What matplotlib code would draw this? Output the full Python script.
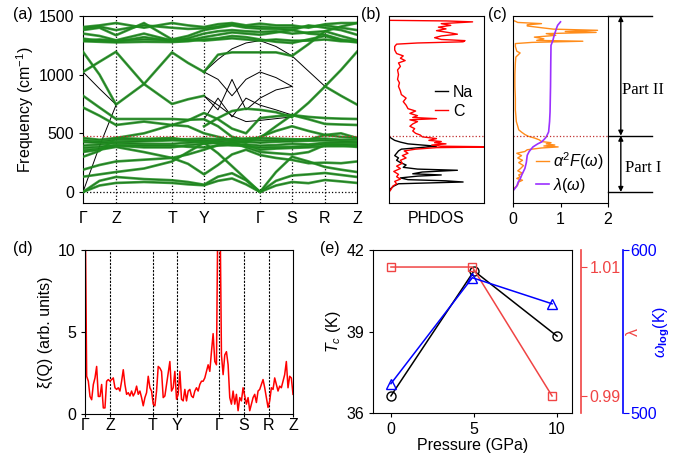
import numpy as np
import matplotlib
matplotlib.use('Agg')
import matplotlib.pyplot as plt

plt.rcParams['font.family'] = ['Liberation Sans', 'DejaVu Sans']
plt.rcParams['mathtext.fontset'] = 'custom'
plt.rcParams['mathtext.rm'] = 'Liberation Sans'
plt.rcParams['mathtext.it'] = 'Liberation Sans:italic'
plt.rcParams['mathtext.bf'] = 'Liberation Sans:bold'
plt.rcParams['font.size'] = 11.5

n = np.nan
# ---------------- k-path ----------------
kpath_labels = ['Γ', 'Z', 'T', 'Y', 'Γ', 'S', 'R', 'Z']
kpath_ticks = [0, 33, 89, 121, 177, 209, 242, 274]
band_k = [0, 16.5, 33, 61, 89, 105, 121, 135, 149, 163, 177, 193, 209, 225.5, 242, 258, 274]

# ---------------- (a) phonon bands (cm^-1) ----------------
green_bands = [
    [0, 55, 77, 85, 77, 65, 57, 95, 115, 65, 0, 55, 85, 75, 102, 90, 77],
    [0, 95, 128, 110, 100, 85, 62, 130, 160, 100, 0, 95, 140, 150, 162, 145, 128],
    [130, 150, 170, 200, 260, 340, 420, 330, 220, 110, 0, 170, 300, 260, 213, 190, 170],
    [190, 230, 260, 275, 290, 240, 150, 230, 320, 360, 315, 290, 273, 245, 250, 245, 260],
    [341, 360, 384, 340, 290, 320, 360, 400, 430, 380, 341, 330, 320, 340, 400, 395, 384],
    [355, 370, 395, 380, 380, 400, 410, 420, 410, 400, 360, 370, 375, 380, 390, 390, 395],
    [375, 385, 400, 395, 395, 385, 380, 395, 400, 390, 378, 382, 385, 392, 410, 405, 400],
    [395, 405, 418, 410, 410, 420, 430, 415, 398, 405, 395, 400, 410, 405, 420, 420, 418],
    [425, 420, 426, 432, 440, 436, 440, 432, 422, 428, 420, 428, 432, 436, 440, 432, 426],
    [440, 430, 445, 445, 450, 450, 455, 450, 440, 445, 440, 440, 445, 450, 455, 445, 445],
    [460, 445, 460, 452, 460, 440, 420, 440, 452, 456, 460, 455, 450, 445, 486, 470, 460],
    [300, 350, 460, 500, 571, 560, 500, 470, 440, 420, 470, 520, 560, 520, 486, 500, 460],
    [720, 650, 571, 600, 571, 610, 673, 620, 540, 500, 630, 645, 656, 620, 580, 575, 571],
    [820, 720, 622, 622, 622, 615, 620, 560, 470, 440, 460, 560, 656, 640, 630, 625, 622],
    [n, n, n, n, n, n, 560, 630, 690, 710, 700, 680, 640, n, n, n, n],
    [1023, 1110, 1195, 920, 750, 790, 820, n, n, n, n, n, 640, 760, 900, 1040, 1195],
    [1195, 1000, 745, 920, 1190, 1100, 1023, n, n, n, n, n, n, n, 900, 820, 745],
    [n, n, n, n, n, n, 1023, 1170, 1190, 1190, 1190, 1190, 1160, 1260, 1370, 1410, 1440],
    [1406, 1420, 1440, 1400, 1440, 1420, 1406, 1430, 1440, 1420, 1435, 1420, 1420, 1400, 1430, 1440, 1440],
    [1395, 1410, 1380, 1420, 1400, 1390, 1395, 1410, 1430, 1410, 1410, 1400, 1400, 1410, 1420, 1400, 1380],
    [1380, 1400, 1336, 1440, 1300, 1330, 1380, 1400, 1420, 1400, 1392, 1390, 1380, 1420, 1400, 1380, 1340],
    [1350, 1330, 1293, 1350, 1290, 1310, 1350, 1370, 1380, 1370, 1364, 1370, 1350, 1360, 1370, 1330, 1293],
    [1307, 1290, 1280, 1320, 1285, 1290, 1320, 1340, 1360, 1350, 1340, 1360, 1380, 1350, 1340, 1300, 1280],
    [1290, 1300, 1290, 1300, 1295, 1300, 1290, 1300, 1310, 1300, 1290, 1300, 1290, 1290, 1300, 1285, 1290],
    [1285, 1280, 1275, 1280, 1278, 1285, 1300, 1310, 1330, 1320, 1300, 1280, 1270, 1300, 1330, 1290, 1275],
]
black_bands = [
    [0, 390, 740, n, n, n, n, n, n, n, n, n, n, n, n, n, n],
    [1023, 880, 745, n, n, n, n, n, n, n, n, n, n, n, n, n, n],
    [n, n, n, n, n, n, 820, 740, 650, 600, 610, 625, 640, n, n, n, n],
    [n, n, n, n, n, n, 1023, 1130, 1220, 1270, 1290, 1240, 1160, 1030, 900, n, n],
    [n, n, n, n, n, n, 1023, 960, 820, 960, 1023, 975, 900, n, n, n, n],
    [n, n, n, n, n, n, 820, 700, 960, 700, 800, 870, 900, n, n, n, n],
    [n, n, n, n, n, n, 620, 800, 640, 800, 740, 700, 656, n, n, n, n],
]
fermi_cut = 480

# ---------------- (b) PHDOS ----------------
dos_freq_c = [0, 20, 50, 70, 90, 110, 130, 150, 175, 200, 220, 245, 270, 290, 310, 330, 350, 365,
              378, 384, 390, 400, 410, 420, 430, 440, 455, 470, 485, 500, 520, 540, 560, 580, 600,
              615, 625, 635, 650, 670, 690, 710, 740, 770, 800, 830, 860, 900, 930, 960, 1000,
              1040, 1070, 1100, 1120, 1140, 1160, 1180, 1210, 1240, 1260, 1270, 1280, 1290, 1300,
              1315, 1330, 1345, 1360, 1375, 1390, 1405, 1420, 1435, 1450, 1458, 1463, 1500]
dos_c = [0, 0.02, 0.04, 0.08, 0.06, 0.12, 0.08, 0.10, 0.05, 0.12, 0.08, 0.14, 0.12, 0.18, 0.14, 0.20,
         0.16, 0.28, 0.50, 1.20, 0.55, 0.45, 0.60, 0.48, 0.55, 0.42, 0.50, 0.35, 0.33, 0.28, 0.25,
         0.27, 0.22, 0.25, 0.30, 0.22, 0.50, 0.25, 0.30, 0.22, 0.28, 0.20, 0.18, 0.15, 0.18, 0.13,
         0.12, 0.10, 0.11, 0.09, 0.10, 0.09, 0.12, 0.10, 0.17, 0.12, 0.15, 0.08, 0.06, 0.06, 0.08,
         0.30, 0.78, 0.80, 0.55, 0.48, 0.55, 0.72, 0.62, 0.50, 0.60, 0.52, 0.65, 0.55, 0.88, 0.60,
         0.0, 0.0]
dos_freq_na = [0, 30, 50, 70, 85, 95, 105, 120, 135, 145, 155, 170, 185, 195, 210, 230, 250, 270,
               290, 310, 330, 350, 365, 380, 390, 400, 410, 425, 440, 460, 480, 1500]
dos_na = [0, 0.02, 0.05, 0.10, 0.78, 0.60, 0.20, 0.12, 0.30, 0.55, 0.25, 0.35, 0.72, 0.30, 0.15,
          0.18, 0.12, 0.08, 0.10, 0.06, 0.08, 0.10, 0.13, 0.35, 0.50, 0.35, 0.20, 0.12, 0.06, 0.02,
          0.0, 0.0]

# ---------------- (c) Eliashberg ----------------
a2f_freq = [0, 30, 60, 85, 100, 115, 130, 145, 160, 180, 200, 225, 250, 270, 290, 310, 330, 345,
            360, 375, 384, 392, 400, 410, 420, 430, 445, 460, 475, 490, 510, 530, 560, 600, 700,
            800, 900, 1000, 1100, 1150, 1185, 1200, 1240, 1265, 1275, 1285, 1292, 1305, 1320,
            1335, 1350, 1360, 1368, 1378, 1388, 1400, 1415, 1425, 1435, 1445, 1455, 1462, 1500]
a2f = [0, 0.02, 0.10, 0.12, 0.20, 0.08, 0.15, 0.12, 0.20, 0.10, 0.16, 0.22, 0.12, 0.20, 0.10,
       0.18, 0.08, 0.25, 0.30, 0.60, 0.95, 0.65, 0.88, 0.70, 0.80, 0.60, 0.55, 0.45, 0.32, 0.25,
       0.18, 0.12, 0.10, 0.07, 0.05, 0.05, 0.04, 0.04, 0.05, 0.06, 0.15, 0.08, 0.05, 0.05, 0.40,
       1.47, 0.50, 0.65, 0.45, 0.90, 0.70, 1.75, 1.10, 1.78, 0.85, 0.60, 0.30, 0.30, 0.60, 0.10,
       0.05, 0.0, 0.0]
lam_freq = [10, 20, 50, 85, 110, 150, 200, 250, 313, 345, 384, 410, 426, 450, 469, 512, 600, 682,
            900, 1100, 1250, 1293, 1340, 1364, 1400, 1421, 1450]
lam_w = [0, 0.02, 0.08, 0.11, 0.15, 0.19, 0.25, 0.28, 0.30, 0.34, 0.42, 0.52, 0.60, 0.66, 0.70,
         0.75, 0.77, 0.78, 0.79, 0.795, 0.80, 0.84, 0.87, 0.89, 0.92, 0.94, 1.0]

# ---------------- (d) nesting function ----------------
xi = [14, 2.3, 2.0, 1.07, 0.87, 1.8, 2.2, 2.9, 1.07, 1.07, 1.8, 0.37, 0.37, 2.0, 2.1, 2.0, 2.1,
      2.2, 1.6, 1.5, 1.6, 1.4, 2.0, 2.7, 1.8, 1.2, 1.3, 1.1, 1.4, 1.1, 1.3, 1.7, 1.2, 1.4, 1.0,
      0.5, 1.0, 1.3, 2.3, 1.6, 1.4, 0.6, 0.5, 1.4, 2.9, 2.8, 2.6, 1.0, 1.1, 1.8, 2.5, 3.2, 1.4,
      1.6, 2.6, 0.9, 1.2, 2.6, 0.9, 0.8, 1.5, 0.8, 1.4, 1.5, 1.1, 1.0, 1.4, 1.6, 1.4, 1.8, 2.0,
      2.0, 2.2, 2.6, 3.0, 2.6, 3.8, 4.9, 3.2, 3.0, 14, 14, 3.6, 2.4, 3.6, 3.8, 3.0, 1.0, 0.6,
      1.4, 0.6, 1.2, 0.2, 1.0, 0.8, 1.6, 1.1, 0.6, 1.0, 0.2, 0.6, 1.0, 1.2, 0.7, 1.4, 1.5, 1.8,
      2.1, 1.6, 1.0, 0.4, 0.8, 1.6, 1.5, 2.2, 1.8, 1.4, 1.7, 1.6, 2.0, 2.4, 3.2, 1.6, 2.3, 2.2,
      1.2]
xi_q = np.linspace(0, 274, len(xi))

# ---------------- (e) pressure dependence ----------------
pressure_tc = [0, 5, 10]
tc = [36.63, 41.23, 38.83]
pressure_lam = [0, 4.9, 9.7]
lam = [1.01, 1.01, 0.99]
pressure_w = [0, 4.9, 9.7]
wlog = [518, 583, 567]

GREEN = '#1e8c1e'
ORANGE = '#ff8c1a'
PURPLE = '#9b30ff'
LRED = '#f04444'

W, H = 689, 454
fig = plt.figure(figsize=(W / 100, H / 100), dpi=100)


def ax_px(x0, y0, x1, y1):
    return fig.add_axes([x0 / W, 1 - y1 / H, (x1 - x0) / W, (y1 - y0) / H])


ylim_f = (-94, 1500)

# ---- (a)
axa = ax_px(83, 16, 357, 203)
for b in green_bands:
    axa.plot(band_k, b, color='k', lw=0.6, zorder=2)
    axa.plot(band_k, b, color=GREEN, lw=1.9, alpha=0.85, zorder=3)
for b in black_bands:
    axa.plot(band_k, b, color='k', lw=0.7, zorder=2)
for t in kpath_ticks[1:-1]:
    axa.axvline(t, color='k', ls=':', lw=0.9, zorder=1)
axa.axhline(0, color='k', ls=':', lw=0.9, zorder=1)
axa.axhline(fermi_cut, color='#c03030', ls=':', lw=0.9, zorder=4)
axa.set_xlim(0, 274)
axa.set_ylim(*ylim_f)
axa.set_xticks(kpath_ticks)
axa.set_xticklabels(kpath_labels)
axa.set_yticks([0, 500, 1000, 1500])
axa.tick_params(axis='x', length=0, pad=6)
axa.tick_params(axis='y', direction='out', length=3)
axa.set_ylabel('Frequency (cm$^{-1}$)', labelpad=2)

# ---- (b)
axb = ax_px(389, 16, 484, 203)
axb.plot(dos_na, dos_freq_na, color='k', lw=1.0, label='Na')
axb.plot(dos_c, dos_freq_c, color='red', lw=1.0, label='C')
axb.axhline(fermi_cut, color='#c03030', ls=':', lw=0.9)
axb.set_xlim(0, 1)
axb.set_ylim(*ylim_f)
axb.set_xticks([])
axb.set_yticks([])
axb.set_xlabel('PHDOS', labelpad=6)
axb.legend(loc='upper left', bbox_to_anchor=(0.42, 0.665), frameon=False, handlelength=0.8,
           handletextpad=0.3, labelspacing=0.25, borderaxespad=0, fontsize=11.5)

# ---- (c)
axc = ax_px(513, 16, 608, 203)
axc.plot(a2f, a2f_freq, color=ORANGE, lw=1.0, label=r'$\alpha^2F(\omega)$')
axc.plot(lam_w, lam_freq, color=PURPLE, lw=1.2, label=r'$\lambda(\omega)$')
axc.axhline(fermi_cut, color='#c03030', ls=':', lw=0.9)
axc.set_xlim(0, 2)
axc.set_ylim(*ylim_f)
axc.set_xticks([0, 1, 2])
axc.set_yticks([])
axc.tick_params(axis='x', direction='out', length=3)
axc.legend(loc='lower right', bbox_to_anchor=(1.04, 0.0), frameon=False, handlelength=0.8,
           handletextpad=0.3, labelspacing=0.25, borderaxespad=0.1, fontsize=11.5)
for f in [1500, fermi_cut, 0]:
    axc.plot([2, 2.93], [f, f], color='k', lw=1.0, clip_on=False)
for (fa, fb) in [(1500, fermi_cut), (fermi_cut, 0)]:
    axc.annotate('', xy=(2.27, fa), xytext=(2.27, fb), annotation_clip=False,
                 arrowprops=dict(arrowstyle='<|-|>', color='k', lw=1.0, mutation_scale=7,
                                 shrinkA=0, shrinkB=0))
axc.text(2.74, 870, 'Part II', ha='center', va='center', family='Liberation Serif', fontsize=12,
         clip_on=False)
axc.text(2.74, 205, 'Part I', ha='center', va='center', family='Liberation Serif', fontsize=12,
         clip_on=False)

# ---- (d)
axd = ax_px(85, 250, 293, 414)
axd.plot(xi_q, xi, color='red', lw=1.1)
for t in kpath_ticks[1:-1]:
    axd.axvline(t, color='k', ls=(0, (2, 1.2)), lw=0.8, zorder=1)
axd.set_xlim(0, 274)
axd.set_ylim(0, 10)
axd.set_yticks([0, 5, 10])
axd.set_xticks(kpath_ticks)
axd.set_xticklabels(kpath_labels)
axd.tick_params(axis='x', length=2, pad=1)
axd.tick_params(axis='y', direction='out', length=3)
axd.set_ylabel('ξ(Q) (arb. units)', labelpad=4)

# ---- (e)
axe = ax_px(373, 250, 572, 413)
axl = axe.twinx()
axw = axe.twinx()
axl.plot(pressure_lam, lam, color=LRED, lw=1.1, marker='s', mfc='none', ms=6, mew=1)
axw.plot(pressure_w, wlog, color='blue', lw=1.1, marker='^', mfc='none', ms=7, mew=1)
axe.plot(pressure_tc, tc, color='k', lw=1.1, marker='o', mfc='none', ms=6.5, mew=1, zorder=5)
axe.set_xlim(-1.08, 10.9)
axe.set_ylim(36, 42)
axe.set_yticks([36, 39, 42])
axe.set_xticks([0, 5, 10])
axe.tick_params(direction='out', length=3)
axe.set_xlabel('Pressure (GPa)', labelpad=1)
axe.set_ylabel('$T_c$ (K)', labelpad=2)

axl.set_ylim(0.98736, 1.01264)
axl.set_yticks([0.99, 1.01])
axl.set_yticklabels(['0.99', '1.01'])
for s in ['top', 'left', 'bottom']:
    axl.spines[s].set_visible(False)
axl.spines['right'].set_position(('axes', 1.045))
axl.spines['right'].set_color(LRED)
axl.spines['right'].set_linewidth(1.2)
axl.tick_params(axis='y', colors=LRED, direction='out', length=4, pad=2)
axl.set_ylabel('λ', color=LRED, labelpad=4)

axw.set_ylim(500, 600)
axw.set_yticks([500, 600])
for s in ['top', 'left', 'bottom']:
    axw.spines[s].set_visible(False)
axw.spines['right'].set_position(('axes', 1.256))
axw.spines['right'].set_color('blue')
axw.spines['right'].set_linewidth(1.2)
axw.tick_params(axis='y', colors='blue', direction='out', length=4, pad=1)
axw.set_ylabel(r'$\omega_{\mathbf{log}}$(K)', color='blue', labelpad=-4)

# panel labels
for lab, x, y in [('(a)', 13, 14), ('(b)', 361, 14), ('(c)', 488, 14), ('(d)', 13, 249), ('(e)', 320, 249)]:
    fig.text(x / W, 1 - y / H, lab, ha='left', va='center', fontsize=11.5)

fig.savefig('out.png', dpi=100)
